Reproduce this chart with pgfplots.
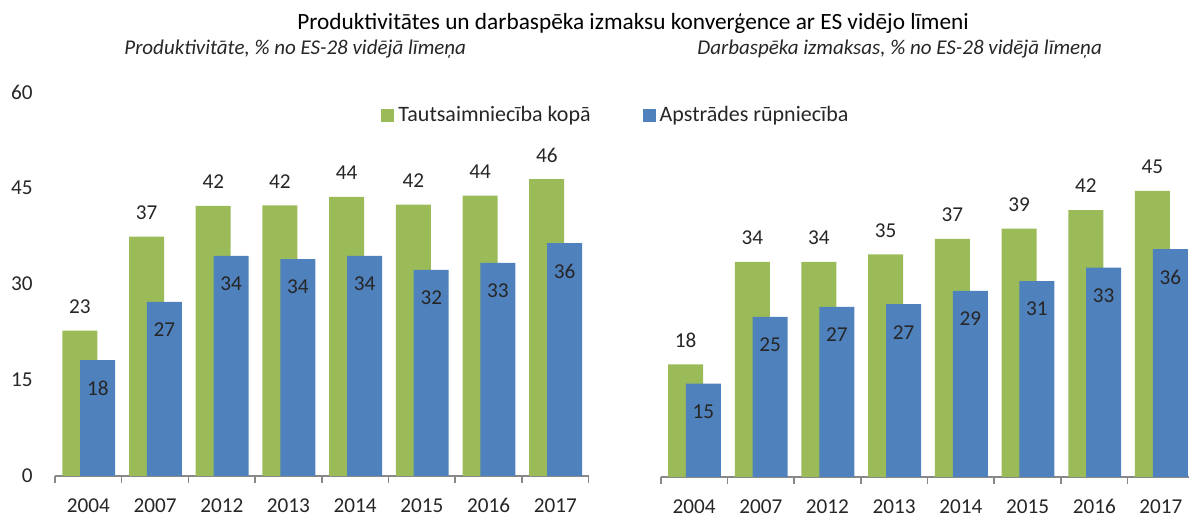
\documentclass[border=0pt]{standalone}
\usepackage{fontspec}
\setmainfont{Carlito}
\usepackage{pgfplots}
\usepackage{pgfplotstable}
\pgfplotsset{compat=1.18}
\definecolor{barGreen}{HTML}{9BBB59}
\definecolor{barBlue}{HTML}{4F81BD}
\definecolor{axisGray}{HTML}{888888}
\definecolor{txt}{HTML}{262626}

\pgfplotstableread{
x prodG prodB costG costB
0 22.7 18.1 17.6 14.6
1 37.4 27.2 33.6 25.0
2 42.2 34.4 33.6 26.6
3 42.3 33.9 34.8 27.0
4 43.6 34.4 37.2 29.1
5 42.4 32.2 38.8 30.6
6 43.8 33.3 41.7 32.7
7 46.4 36.4 44.7 35.6
}\data

\pgfplotsset{
  panel/.style={
    scale only axis, width=266.8pt, height=192pt,
    anchor=south west,
    xmin=-0.5, xmax=7.5, ymin=0, ymax=60,
    ybar, bar width=17.5pt,
    axis x line*=bottom,
    x axis line style={draw=axisGray, line width=0.8pt},
    xtick={0,1,2,3,4,5,6,7},
    xticklabels={2004,2007,2012,2013,2014,2015,2016,2017},
    minor xtick={-0.5,0.5,1.5,2.5,3.5,4.5,5.5,6.5,7.5},
    minor x tick style={draw=axisGray, line width=0.8pt},
    major tick length=0pt,
    minor tick length=3.4pt,
    tick align=outside,
    xticklabel style={anchor=center, yshift=-14.75pt, font=\fontsize{10.6}{12}\selectfont, text=txt},
    /pgf/number format/assume math mode=true,
    clip=false,
  },
  greenbars/.style={fill=barGreen, draw=none, bar shift=-4.25pt,
    nodes near coords={\pgfmathprintnumber[fixed,precision=0]{\pgfplotspointmeta}},
    every node near coord/.append style={anchor=center, yshift=12pt, font=\fontsize{10.6}{12}\selectfont, text=txt},
    legend image code/.code={\fill[barGreen] (0pt,-3.25pt) rectangle (6.5pt,3.25pt);}},
  bluebars/.style={fill=barBlue, draw=none, bar shift=4.7pt,
    nodes near coords={\pgfmathprintnumber[fixed,precision=0]{\pgfplotspointmeta}},
    every node near coord/.append style={anchor=center, yshift=-14pt, font=\fontsize{10.6}{12}\selectfont, text=txt},
    legend image code/.code={\fill[barBlue] (0pt,-3.25pt) rectangle (6.5pt,3.25pt);}},
}

\begin{document}
\begin{tikzpicture}
\useasboundingbox (0,0) rectangle (594.5pt,258.5pt);

\begin{axis}[panel, at={(27.5pt,20.5pt)},
  axis y line*=left, y axis line style={draw=none},
  ytick={0,15,30,45,60},
  yticklabel style={inner sep=0pt, xshift=-11pt, font=\fontsize{10.6}{12}\selectfont, text=txt},
  legend style={at={(axis description cs:0.611,0.939)}, anchor=west, draw=none, fill=none,
    legend columns=2, inner sep=0pt, font=\fontsize{11}{12}\selectfont, text=txt,
    /tikz/every even column/.append style={column sep=24pt}},
  legend cell align=left,
]
\addplot[greenbars] table[x=x,y=prodG]{\data};
\addplot[bluebars] table[x=x,y=prodB]{\data};
\legend{Tautsaimniecība kopā, Apstrādes rūpniecība}
\end{axis}

\begin{axis}[panel, at={(330.35pt,20pt)}, axis y line=none]
\addplot[greenbars] table[x=x,y=costG]{\data};
\addplot[bluebars] table[x=x,y=costB]{\data};
\end{axis}

\node[anchor=base west, font=\fontsize{11.65}{13}\selectfont, inner sep=0pt] at (148.5pt,243.85pt)
  {Produktivitātes un darbaspēka izmaksu konverģence ar ES vidējo līmeni};
\node[anchor=base west, font=\fontsize{10.5}{12}\itshape, text=txt, inner sep=0pt] at (62pt,231.35pt)
  {Produktivitāte, \% no ES-28 vidējā līmeņa};
\node[anchor=base west, font=\fontsize{10.5}{12}\itshape, text=txt, inner sep=0pt] at (348.5pt,231.35pt)
  {Darbaspēka izmaksas, \% no ES-28 vidējā līmeņa};
\end{tikzpicture}
\end{document}
